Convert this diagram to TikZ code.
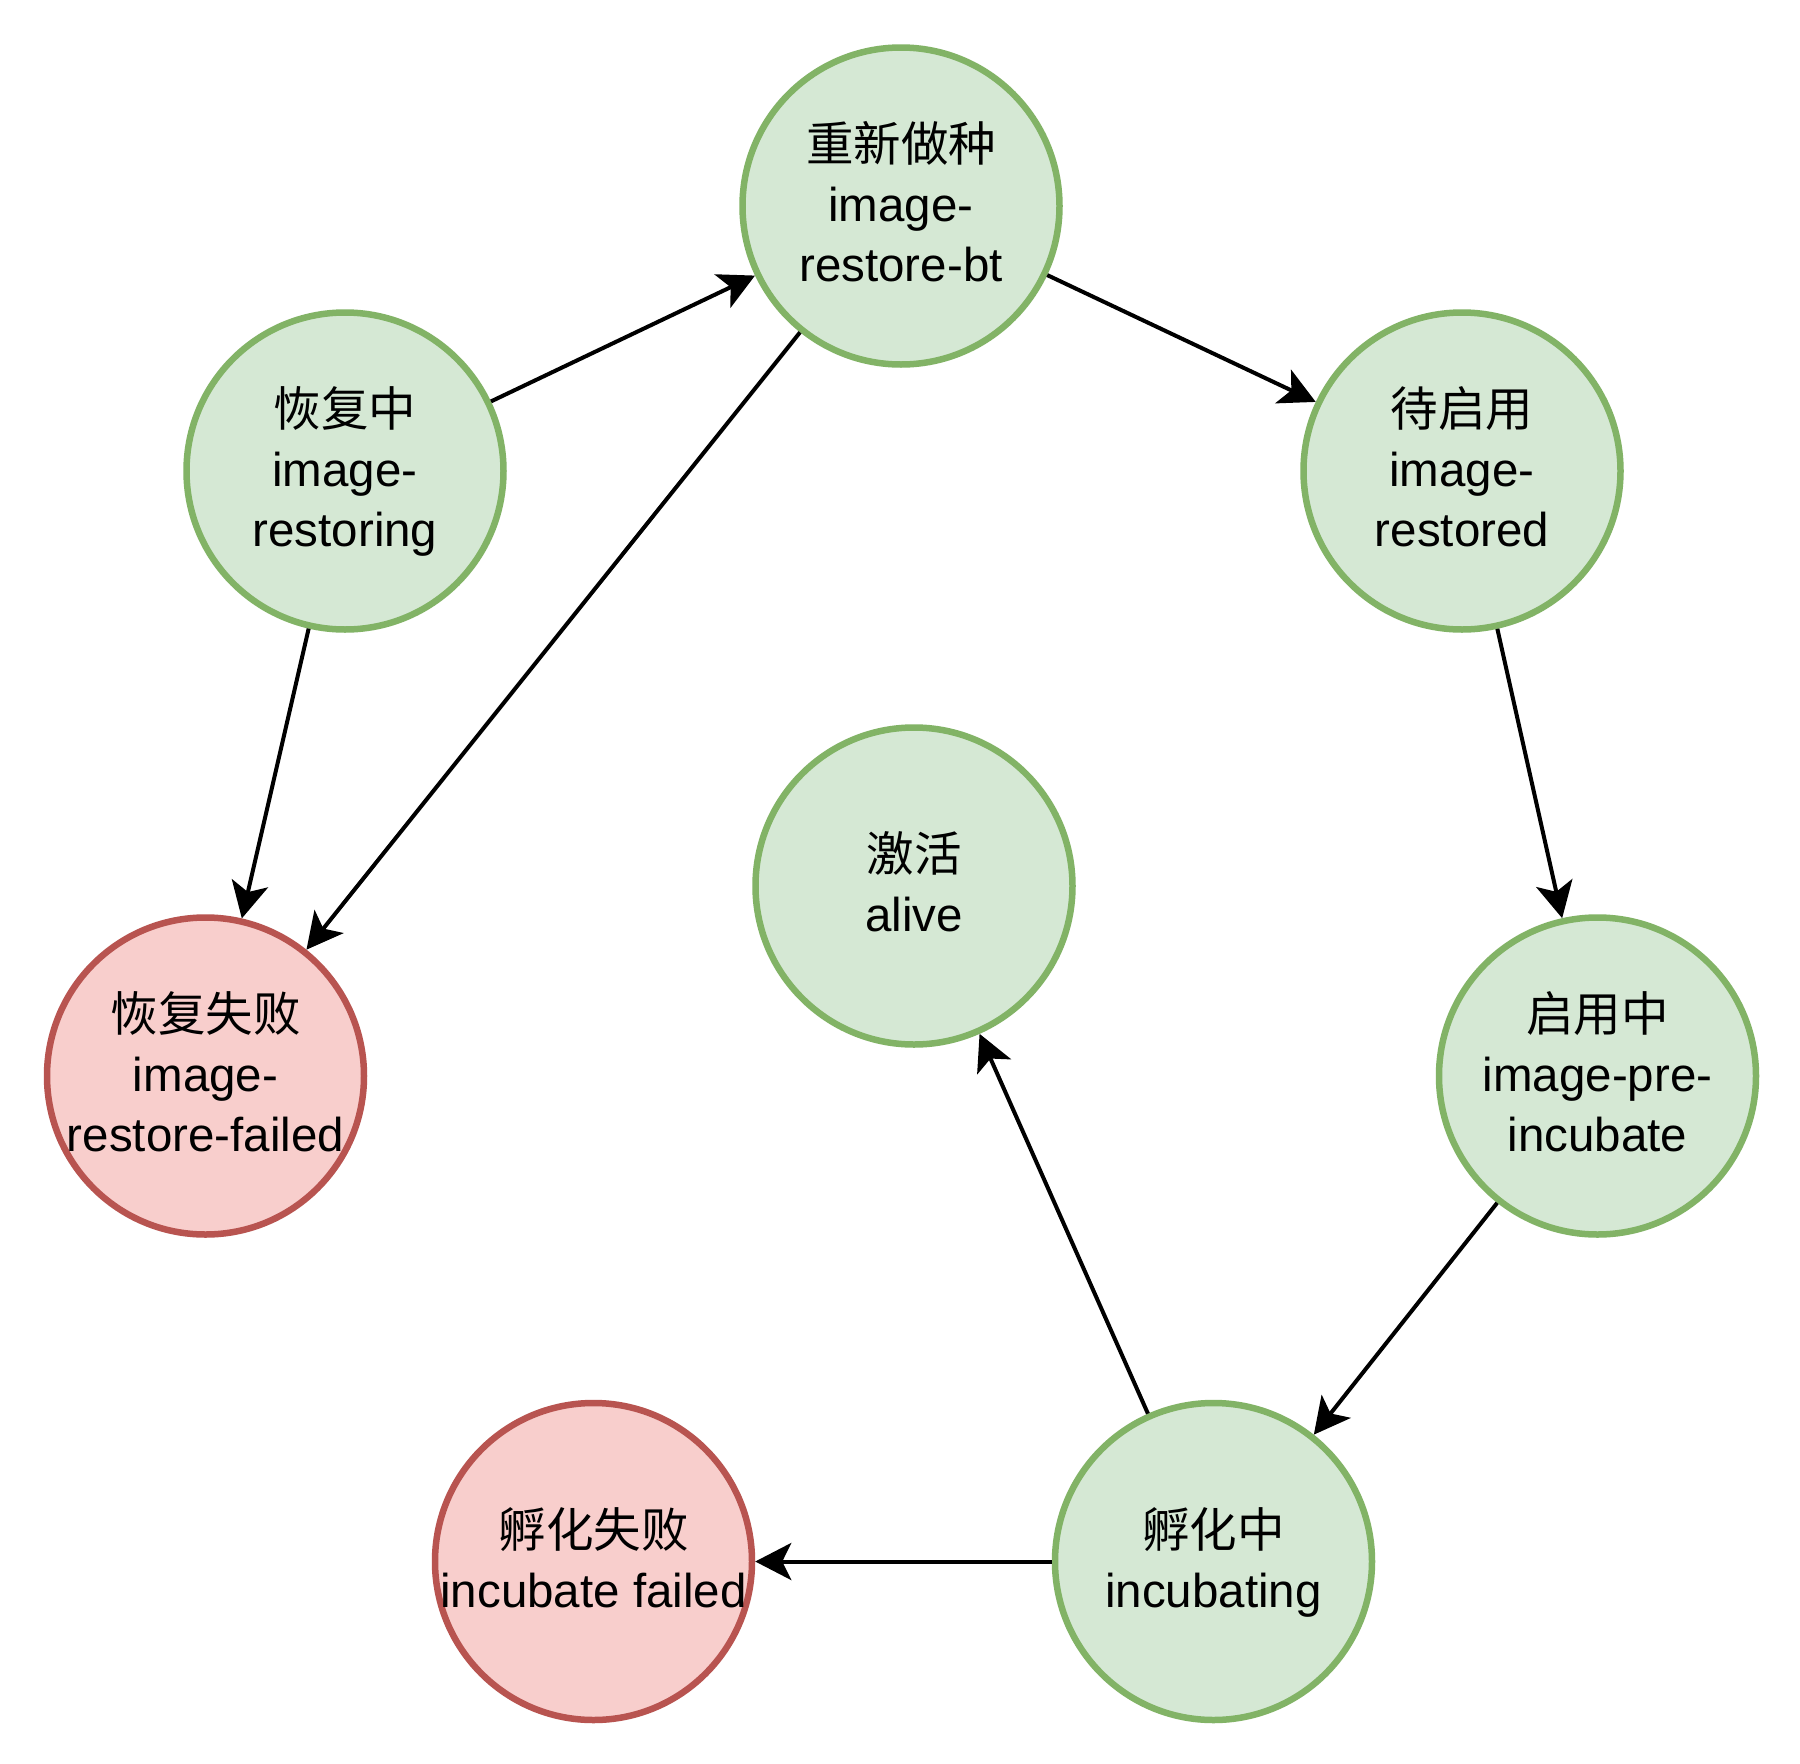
\documentclass[tikz,border=0pt]{standalone}
\usepackage{fontspec}
\setmainfont{Liberation Sans}
\newfontfamily\cjk{Noto Sans CJK SC}
\usetikzlibrary{arrows.meta}
\definecolor{gfill}{HTML}{D5E8D4}
\definecolor{gline}{HTML}{82B366}
\definecolor{rfill}{HTML}{F8CECC}
\definecolor{rline}{HTML}{B85450}
\newcommand\lsx{\rule[-14.5pt]{0pt}{60pt}}
\tikzset{
  state/.style={circle, minimum size=317pt, inner sep=0pt,
    line width=6.5pt},
  okstate/.style={state, draw=gline, fill=gfill},
  badstate/.style={state, draw=rline, fill=rfill},
  txt/.style={align=center, inner sep=0pt, font=\fontsize{47.5}{60}\selectfont},
  trans/.style={line width=4pt, -{Stealth[length=36pt, width=37pt, inset=9pt]}}
}
\begin{document}
\begin{tikzpicture}[x=1pt,y=-1pt]
\useasboundingbox[fill=white] (0,0) rectangle (1800,1764);
\node[okstate, label={[txt, name=btt]center:\lsx{\cjk 重新做种}\\\lsx image-\\\lsx restore-bt}] (bt) at (901,206) {};
\node[okstate, label={[txt, name=restoringt]center:\lsx{\cjk 恢复中}\\\lsx image-\\\lsx restoring}] (restoring) at (345,471) {};
\node[okstate, label={[txt, name=restoredt]center:\lsx{\cjk 待启用}\\\lsx image-\\\lsx restored}] (restored) at (1462,471) {};
\node[okstate, label={[txt, name=alivet]center:\lsx{\cjk 激活}\\\lsx alive}] (alive) at (914,886) {};
\node[badstate, label={[txt, name=rfailedt]center:\lsx{\cjk 恢复失败}\\\lsx image-\\\lsx restore-failed}] (rfailed) at (205.5,1076) {};
\node[okstate, label={[txt, name=preinct]center:\lsx{\cjk 启用中}\\\lsx image-pre-\\\lsx incubate}] (preinc) at (1597.5,1076) {};
\node[badstate, label={[txt, name=ifailedt]center:\lsx{\cjk 孵化失败}\\\lsx incubate failed}] (ifailed) at (593.5,1561.5) {};
\node[okstate, label={[txt, name=incubatingt]center:\lsx{\cjk 孵化中}\\\lsx incubating}] (incubating) at (1213.5,1561.5) {};
\draw[trans] (restoring) -- (bt);
\draw[trans] (bt) -- (restored);
\draw[trans] (bt) -- (rfailed);
\draw[trans] (restoring) -- (rfailed);
\draw[trans] (restored) -- (preinc);
\draw[trans] (preinc) -- (incubating);
\draw[trans] (incubating) -- (alive);
\draw[trans] (incubating) -- (ifailed);
\end{tikzpicture}
\end{document}
